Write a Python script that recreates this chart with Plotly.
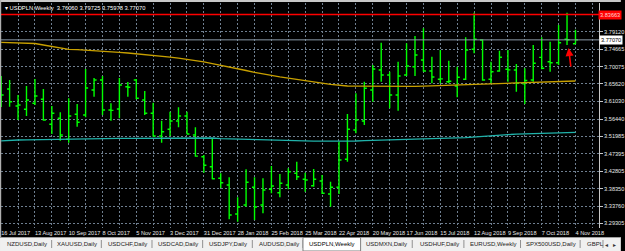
import pandas as pd
import plotly.graph_objects as go

# ---------------- data ----------------
symbol = "USDPLN,Weekly"
dates = pd.date_range("2017-07-16", periods=69, freq="7D")

opens = [3.6558, 3.6427, 3.5985, 3.5899, 3.6055, 3.6159, 3.5508, 3.5664, 3.5118, 3.5769,
         3.5750, 3.6401, 3.6662, 3.5881, 3.5907, 3.6487, 3.6662, 3.6141, 3.5795, 3.5204,
         3.5378, 3.5594, 3.5724, 3.5230, 3.4665, 3.4404, 3.4102, 3.3928, 3.3172, 3.3407,
         3.3868, 3.3407, 3.3816, 3.3727, 3.3928, 3.4232, 3.4076, 3.3909, 3.4032, 3.3693,
         3.3868, 3.4597, 3.5360, 3.5594, 3.6401, 3.6922, 3.6792, 3.6271, 3.6792, 3.7008,
         3.7183, 3.6896, 3.6680, 3.6618, 3.6506, 3.6680, 3.7461, 3.7703, 3.6680, 3.6896,
         3.6940, 3.6922, 3.6560, 3.6662, 3.7250, 3.7138, 3.7112, 3.7722, 3.76060]
highs = [3.6766, 3.6662, 3.6271, 3.6506, 3.6688, 3.6427, 3.5985, 3.5821, 3.6185, 3.6037,
         3.6948, 3.6714, 3.6766, 3.6055, 3.6714, 3.6610, 3.6688, 3.6375, 3.6071, 3.5602,
         3.5836, 3.5951, 3.5836, 3.5430, 3.4709, 3.5144, 3.4232, 3.4128, 3.3607, 3.4336,
         3.4128, 3.4102, 3.4422, 3.4214, 3.4362, 3.4534, 3.4248, 3.4344, 3.4188, 3.4014,
         3.5055, 3.5776, 3.6315, 3.6618, 3.7052, 3.7633, 3.6878, 3.7138, 3.7617, 3.7808,
         3.8008, 3.7269, 3.7443, 3.7164, 3.7008, 3.7774, 3.8414, 3.7722, 3.7138, 3.7425,
         3.7443, 3.7078, 3.6966, 3.7573, 3.7774, 3.7659, 3.8094, 3.8414, 3.79725]
lows = [3.5959, 3.5967, 3.5620, 3.5724, 3.6011, 3.5602, 3.5256, 3.5081, 3.5029, 3.5446,
        3.5691, 3.6227, 3.5750, 3.5602, 3.5664, 3.6227, 3.6159, 3.5750, 3.5185, 3.5029,
        3.5204, 3.5430, 3.5248, 3.4665, 3.4248, 3.4076, 3.3849, 3.3034, 3.2972, 3.3363,
        3.3016, 3.3191, 3.3711, 3.3607, 3.3816, 3.4058, 3.3753, 3.3883, 3.3693, 3.3363,
        3.3693, 3.4534, 3.5274, 3.5490, 3.6097, 3.6618, 3.5925, 3.5862, 3.6766, 3.6766,
        3.6878, 3.6576, 3.6576, 3.6576, 3.6211, 3.6662, 3.7357, 3.6644, 3.6576, 3.6878,
        3.6618, 3.6357, 3.6037, 3.6618, 3.6940, 3.6878, 3.7052, 3.7573, 3.75978]
closes = [3.6271, 3.6097, 3.6010, 3.6141, 3.6245, 3.5620, 3.5795, 3.5230, 3.5724, 3.5560,
          3.6453, 3.6662, 3.5881, 3.5870, 3.6532, 3.6475, 3.6185, 3.5795, 3.5204, 3.5316,
          3.5594, 3.5724, 3.5256, 3.4680, 3.4441, 3.4090, 3.3988, 3.3146, 3.3355, 3.3998,
          3.3355, 3.3797, 3.3902, 3.3972, 3.4274, 3.4144, 3.4058, 3.4076, 3.3711, 3.3868,
          3.4579, 3.5378, 3.5620, 3.6446, 3.6948, 3.6792, 3.6271, 3.6766, 3.7026, 3.7313,
          3.6896, 3.6740, 3.6690, 3.6630, 3.6732, 3.7443, 3.7722, 3.6662, 3.6878, 3.7253,
          3.6925, 3.6576, 3.6650, 3.7097, 3.6966, 3.7112, 3.7633, 3.7710, 3.77070]

ma_yellow = [3.7644, 3.7638, 3.7630, 3.7623, 3.7612, 3.7573, 3.7534, 3.7495, 3.7461, 3.7451,
             3.7440, 3.7430, 3.7420, 3.7401, 3.7383, 3.7365, 3.7347, 3.7326, 3.7302, 3.7282,
             3.7258, 3.7230, 3.7201, 3.7170, 3.7136, 3.7091, 3.7050, 3.7008, 3.6959, 3.6909,
             3.6862, 3.6818, 3.6782, 3.6742, 3.6709, 3.6672, 3.6638, 3.6607, 3.6578, 3.6550,
             3.6519, 3.6506, 3.6503, 3.6500, 3.6498, 3.6495, 3.6492, 3.6492, 3.6492, 3.6498,
             3.6503, 3.6508, 3.6516, 3.6521, 3.6526, 3.6532, 3.6542, 3.6552, 3.6563, 3.6571,
             3.6576, 3.6581, 3.6589, 3.6594, 3.6599, 3.6604, 3.6610, 3.6623, 3.6636]
ma_cyan = [3.5078, 3.5094, 3.5099, 3.5105, 3.5110, 3.5113, 3.5118, 3.5120, 3.5126, 3.5128,
           3.5131, 3.5133, 3.5136, 3.5139, 3.5141, 3.5144, 3.5146, 3.5149, 3.5152, 3.5154,
           3.5154, 3.5157, 3.5157, 3.5159, 3.5159, 3.5152, 3.5133, 3.5126, 3.5115, 3.5107,
           3.5102, 3.5094, 3.5089, 3.5084, 3.5078, 3.5073, 3.5071, 3.5068, 3.5068, 3.5066,
           3.5066, 3.5068, 3.5073, 3.5081, 3.5086, 3.5094, 3.5102, 3.5107, 3.5112, 3.5118,
           3.5123, 3.5131, 3.5139, 3.5146, 3.5154, 3.5162, 3.5180, 3.5198, 3.5216, 3.5230,
           3.5240, 3.5250, 3.5258, 3.5266, 3.5274, 3.5284, 3.5295, 3.5300, 3.5300]

price_ticks = [3.79120, 3.74665, 3.70075, 3.65620, 3.61030, 3.56440, 3.51985,
               3.47395, 3.42805, 3.38350, 3.33760, 3.29305]
resistance = 3.83663
arrow_tail = 3.6974
arrow_head = 3.7495

tabs = ["NZDUSD,Daily", "XAUUSD,Daily", "USDCHF,Daily", "USDCAD,Daily", "USDJPY,Daily",
        "AUDUSD,Daily", "USDPLN,Weekly", "USDMXN,Daily", "USDHUF,Daily", "EURUSD,Weekly",
        "SPX500USD,Daily", "GBPL"]
active_tab = "USDPLN,Weekly"

# ---------------- layout constants ----------------
W, H = 625, 251
ML, MR, MT, MB = 1, 22, 3, 23
PW, PH = W - ML - MR, H - MT - MB


def pxx(p):
    return (p - ML) / PW


def pxy(p):
    return (H - MB - p) / PH


FONT = "Liberation Sans"
grid = "#6f7f90"

fig = go.Figure()
fig.add_trace(go.Scatter(x=dates, y=ma_cyan, mode="lines",
                         line=dict(color="#20b2aa", width=1.3), hoverinfo="skip"))
fig.add_trace(go.Scatter(x=dates, y=ma_yellow, mode="lines",
                         line=dict(color="#c8a000", width=1.3), hoverinfo="skip"))
fig.add_trace(go.Ohlc(x=dates, open=opens, high=highs, low=lows, close=closes,
                      increasing=dict(line=dict(color="#00ff00", width=1.4)),
                      decreasing=dict(line=dict(color="#00ff00", width=1.4)),
                      tickwidth=0.3))

tick_dates = pd.date_range(dates[0], periods=36, freq="14D")
tick_text = [f"{d.day} {d:%b %Y}" if i % 2 == 0 else "" for i, d in enumerate(tick_dates)]

x0 = dates[0] - pd.Timedelta(hours=3)
x1 = dates[0] + pd.Timedelta(days=495.5)

fig.update_layout(
    width=W, height=H,
    margin=dict(l=ML, r=MR, t=MT, b=MB, pad=0),
    paper_bgcolor="#000000", plot_bgcolor="#000000",
    showlegend=False,
    font=dict(family=FONT, size=6, color="#e8e8e8"),
    xaxis=dict(type="date", range=[x0, x1], rangeslider=dict(visible=False),
               tickvals=tick_dates, ticktext=tick_text, tickangle=0,
               ticklabelposition="outside right",
               tickfont=dict(size=5.6, color="#e8e8e8", family=FONT),
               showgrid=True, gridcolor=grid, griddash="2px,2px", gridwidth=1,
               zeroline=False, showline=False, ticks=""),
    yaxis=dict(range=[3.2808, 3.8667], side="right",
               tickvals=price_ticks, ticktext=[f"{v:.5f}" for v in price_ticks],
               tickfont=dict(size=5.6, color="#e8e8e8", family=FONT),
               showgrid=True, gridcolor=grid, griddash="2px,2px", gridwidth=1,
               zeroline=False, showline=True, linecolor="#c8c8c8", linewidth=1,
               ticks="outside", ticklen=3, tickcolor="#c8c8c8"),
)

shapes = []
shapes.append(dict(type="line", xref="paper", x0=0, x1=1, yref="y", y0=resistance, y1=resistance,
                   line=dict(color="#ff0000", width=1.5)))
shapes.append(dict(type="line", xref="paper", x0=0, x1=1, yref="y", y0=closes[-1], y1=closes[-1],
                   line=dict(color="#8a99a8", width=1)))
shapes.append(dict(type="rect", xref="paper", yref="paper", x0=pxx(0), x1=pxx(W), y0=pxy(2), y1=pxy(0),
                   fillcolor="#c8c8c8", line=dict(width=0), layer="above"))
shapes.append(dict(type="rect", xref="paper", yref="paper", x0=pxx(0), x1=pxx(1.2), y0=pxy(237), y1=pxy(0),
                   fillcolor="#b0b0b0", line=dict(width=0), layer="above"))
shapes.append(dict(type="rect", xref="paper", yref="paper", x0=pxx(0), x1=pxx(W), y0=pxy(H), y1=pxy(237),
                   fillcolor="#f0f0f0", line=dict(width=0), layer="above"))
shapes.append(dict(type="line", xref="paper", yref="paper", x0=pxx(0), x1=pxx(W), y0=pxy(237.5), y1=pxy(237.5),
                   line=dict(color="#a0a0a0", width=1), layer="above"))
tab_left = [3, 54, 104, 155, 206, 256, 306, 364, 417, 469, 526, 586]
tab_right = [52, 102, 153, 204, 254, 305, 362, 415, 467, 524, 584, 607]
for name, a, b in zip(tabs, tab_left, tab_right):
    if name == active_tab:
        shapes.append(dict(type="rect", xref="paper", yref="paper", x0=pxx(a - 1), x1=pxx(b + 1),
                           y0=pxy(H), y1=pxy(237.5), fillcolor="#ffffff",
                           line=dict(color="#808080", width=1), layer="above"))
    else:
        shapes.append(dict(type="line", xref="paper", yref="paper", x0=pxx(b), x1=pxx(b),
                           y0=pxy(248), y1=pxy(240), line=dict(color="#909090", width=1), layer="above"))
fig.update_layout(shapes=shapes)

ann = []
ann.append(dict(xref="paper", yref="paper", x=pxx(3), y=pxy(8), xanchor="left", yanchor="middle",
                showarrow=False,
                text=f"▾ {symbol}  {opens[-1]:.5f} {highs[-1]:.5f} {lows[-1]:.5f} {closes[-1]:.5f}",
                font=dict(size=5.8, color="#ffffff", family=FONT)))
ann.append(dict(xref="paper", yref="y", x=pxx(602), y=resistance, xanchor="left", yanchor="middle",
                showarrow=False, text=f"{resistance:.5f}", bgcolor="#ff0000", borderpad=1,
                font=dict(size=5.6, color="#ffd8d8", family=FONT)))
ann.append(dict(xref="paper", yref="y", x=pxx(603), y=closes[-1], xanchor="left", yanchor="middle",
                showarrow=False, text=f"{closes[-1]:.5f}", bgcolor="#ffffff", borderpad=1,
                font=dict(size=5.6, color="#000000", family=FONT)))
ann.append(dict(xref="x", yref="y", axref="x", ayref="y",
                x=dates[-2] + pd.Timedelta(days=1.3), y=arrow_head,
                ax=dates[-2] + pd.Timedelta(days=3.3), ay=arrow_tail,
                showarrow=True, arrowhead=2, arrowsize=1, arrowwidth=1.6, arrowcolor="#ff0000", text=""))
for name, a, b in zip(tabs, tab_left, tab_right):
    if name == "GBPL":
        ann.append(dict(xref="paper", yref="paper", x=pxx(a + 3), y=pxy(244.5), xanchor="left",
                        yanchor="middle", showarrow=False, text=name,
                        font=dict(size=6, color="#222222", family=FONT)))
    else:
        ann.append(dict(xref="paper", yref="paper", x=pxx((a + b) / 2), y=pxy(244.5), xanchor="center",
                        yanchor="middle", showarrow=False, text=name,
                        font=dict(size=6, color="#000000" if name == active_tab else "#222222",
                                  family=FONT)))
ann.append(dict(xref="paper", yref="paper", x=pxx(611), y=pxy(244.5), xanchor="center", yanchor="middle",
                showarrow=False, text="◂", font=dict(size=6, color="#333333", family="DejaVu Sans")))
ann.append(dict(xref="paper", yref="paper", x=pxx(619), y=pxy(244.5), xanchor="center", yanchor="middle",
                showarrow=False, text="▸", font=dict(size=6, color="#333333", family="DejaVu Sans")))
fig.update_layout(annotations=ann)

fig.write_html("out.html")
